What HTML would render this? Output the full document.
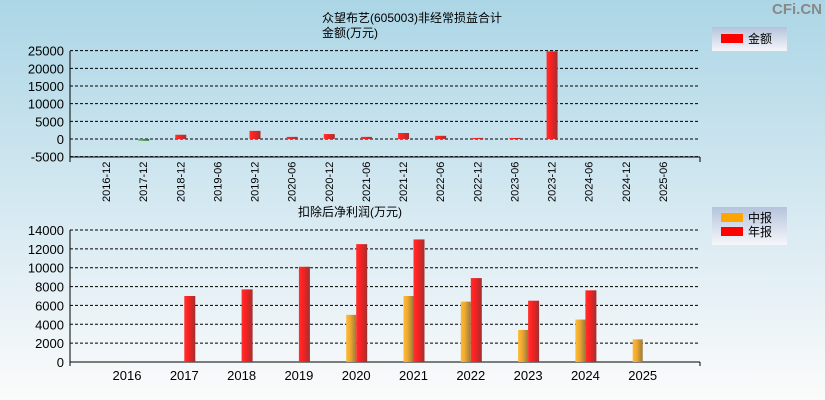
<!DOCTYPE html>
<html><head><meta charset="utf-8">
<style>
html,body{margin:0;padding:0;width:825px;height:400px;overflow:hidden}
body{background:linear-gradient(#acd6e6,#d8eaf2 55%,#fbfbfb);font-family:"Liberation Sans","Noto Sans CJK SC",sans-serif}
</style></head>
<body>
<svg id="c" width="825" height="400" xmlns="http://www.w3.org/2000/svg" style="position:absolute;left:0;top:0">
<defs>
<linearGradient id="gr" x1="0" x2="1"><stop offset="0" stop-color="#ff3030"/><stop offset="0.35" stop-color="#ff2020"/><stop offset="1" stop-color="#a03030"/></linearGradient>
<linearGradient id="go" x1="0" x2="1"><stop offset="0" stop-color="#ffbb33"/><stop offset="0.4" stop-color="#f0a830"/><stop offset="1" stop-color="#9a7a3a"/></linearGradient>
<linearGradient id="gg" x1="0" x2="1"><stop offset="0" stop-color="#60c060"/><stop offset="1" stop-color="#207020"/></linearGradient>
<linearGradient id="lg" x1="0" x2="0" y1="0" y2="1"><stop offset="0" stop-color="#b4c4dc"/><stop offset="1" stop-color="#f6f6fa"/></linearGradient>
</defs>
<text x="822" y="14" text-anchor="end" font-size="15" font-weight="bold" fill="#888">CFi.CN</text>
<text x="412" y="22" text-anchor="middle" font-size="12">众望布艺(605003)非经常损益合计</text>
<text x="322" y="37" font-size="12">金额(万元)</text>
<text x="298" y="216" font-size="12">扣除后净利润(万元)</text>
<g>
<rect x="712" y="27" width="75" height="24" fill="url(#lg)"/>
<rect x="721" y="34" width="22" height="9" fill="#ff0000"/>
<text x="748" y="43" font-size="12">金额</text>
</g>
<g>
<rect x="712" y="207" width="75" height="38" fill="url(#lg)"/>
<rect x="721" y="213" width="22" height="9" fill="#ffa500"/>
<text x="748" y="222" font-size="12">中报</text>
<rect x="721" y="227" width="22" height="9" fill="#ff0000"/>
<text x="748" y="236" font-size="12">年报</text>
</g>
<g id="top"></g><g id="bot"></g>
</svg>
<script>
const topCats=["2016-12","2017-12","2018-12","2019-06","2019-12","2020-06","2020-12","2021-06","2021-12","2022-06","2022-12","2023-06","2023-12","2024-06","2024-12","2025-06"];
const topVals=[0,-500,1200,0,2300,600,1400,600,1700,900,300,300,24800,0,0,0];
const topTicks=[25000,20000,15000,10000,5000,0,-5000];
const botYears=["2016","2017","2018","2019","2020","2021","2022","2023","2024","2025"];
const botInterim=[0,0,0,0,5000,7000,6400,3400,4500,2400];
const botAnnual=[0,7000,7700,10100,12500,13000,8900,6500,7600,0];
const botTicks=[14000,12000,10000,8000,6000,4000,2000,0];
const NS="http://www.w3.org/2000/svg";
function mk(g,t,a){const e=document.createElementNS(NS,t);for(const k in a)e.setAttribute(k,a[k]);g.appendChild(e);return e;}
// top
const T=document.getElementById('top');
const ty=v=>139-v*(106/30000);
const tx=i=>106+i*37.13;
topTicks.forEach(v=>{
 const l=mk(T,'line',{x1:70,x2:700,y1:ty(v),y2:ty(v),stroke:'#000','stroke-dasharray':'3,2'});
 
 const t=mk(T,'text',{x:64,y:ty(v)+5,'text-anchor':'end','font-size':'13'});t.textContent=v;
 
});
mk(T,'line',{x1:70,x2:70,y1:51,y2:162,stroke:'#000'});
mk(T,'line',{x1:70,x2:700,y1:157,y2:157,stroke:'#000'});
mk(T,'line',{x1:700,x2:700,y1:157,y2:162,stroke:'#000'});
topCats.forEach((c,i)=>{
 const t=mk(T,'text',{transform:`translate(${tx(i)+4},202) rotate(-90)`,'font-size':'11'});t.textContent=c;
 
 const v=topVals[i];if(!v)return;
 const y0=ty(0),y1=ty(v);
 const r=mk(T,'rect',{x:tx(i)-5,width:11,y:Math.min(y0,y1),height:Math.max(1,Math.abs(y1-y0)),fill:v<0?'url(#gg)':'url(#gr)'});
 
});
// bottom
const B=document.getElementById('bot');
const by=v=>362-v*(132/14000);
const bx=i=>127+i*57.3;
botTicks.forEach(v=>{
 if(v>0){const l=mk(B,'line',{x1:70,x2:700,y1:by(v),y2:by(v),stroke:'#000','stroke-dasharray':'3,2'});
 }
 const t=mk(B,'text',{x:64,y:by(v)+5,'text-anchor':'end','font-size':'13'});t.textContent=v;
 
});
mk(B,'line',{x1:70,x2:70,y1:230,y2:366,stroke:'#000'});
mk(B,'line',{x1:70,x2:700,y1:362,y2:362,stroke:'#000'});
mk(B,'line',{x1:700,x2:700,y1:362,y2:366,stroke:'#000'});
botYears.forEach((y,i)=>{
 const t=mk(B,'text',{x:bx(i),y:380,'text-anchor':'middle','font-size':'13'});t.textContent=y;
 
 if(botInterim[i]){const r=mk(B,'rect',{x:bx(i)-10,width:10,y:by(botInterim[i]),height:362-by(botInterim[i]),fill:'url(#go)'});
  }
 if(botAnnual[i]){const r=mk(B,'rect',{x:bx(i),width:11,y:by(botAnnual[i]),height:362-by(botAnnual[i]),fill:'url(#gr)'});
  }
});
</script>
</body></html>
